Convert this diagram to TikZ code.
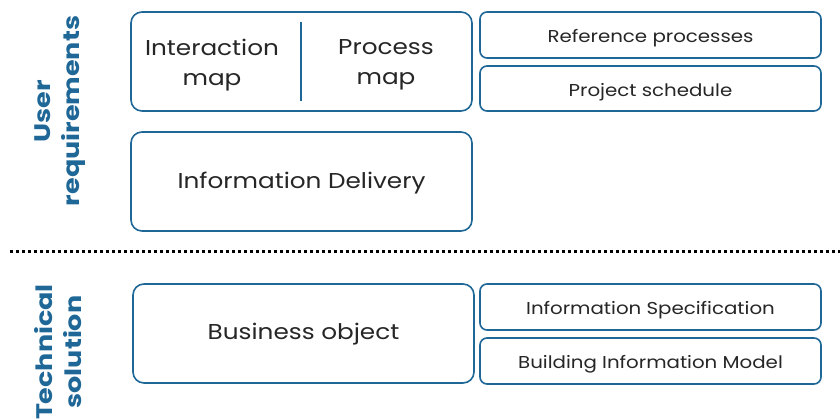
\documentclass[tikz,border=0pt]{standalone}
\usepackage{fontspec}
\setmainfont[FakeStretch=1.15]{Poppins}
\newfontfamily\sidefont[FakeStretch=1.2]{Poppins}
\definecolor{frameblue}{HTML}{1F6797}
\definecolor{bodytext}{HTML}{262626}
\tikzset{
  x=1pt, y=-1pt,
  card/.style={draw=frameblue, line width=1.6pt, rounded corners=11pt, fill=white},
  smallcard/.style={draw=frameblue, line width=1.6pt, rounded corners=7pt, fill=white},
  cardtext/.style={text=bodytext, font=\fontsize{21.5}{30}\selectfont, align=center},
  smalltext/.style={text=bodytext, font=\fontsize{17.2}{20}\selectfont, align=center},
  sidelabel/.style={text=frameblue, font=\sidefont\fontsize{22.5}{29}\selectfont\bfseries, align=center, rotate=90},
}
\begin{document}
\begin{tikzpicture}
\useasboundingbox (0,0) rectangle (840,419);

% user requirements layer
\draw[card] (131,12) rectangle (472,111);
\draw[frameblue, line width=1.6pt] (301,22) -- (301,101);
\node[cardtext] (interaction) at (212,65) {Interaction\\map};
\node[cardtext] (process) at (386,65) {Process\\map};
\draw[smallcard] (480,12) rectangle (821,58);
\node[smalltext] (refproc) at (650.5,38) {Reference processes};
\draw[smallcard] (480,66) rectangle (821,111);
\node[smalltext] (schedule) at (650.5,92) {Project schedule};
\draw[card] (131,132) rectangle (472,231);
\node[cardtext] (delivery) at (301.5,183.5) {Information Delivery};
\node[sidelabel] (userreq) at (60,111) {User\\requirements};

% separator
\draw[black, line width=3pt, dash pattern=on 3pt off 3pt] (10,252) -- (840,252);

% technical solution layer
\draw[card] (133,284) rectangle (474,383);
\node[cardtext] (business) at (303.5,334.5) {Business object};
\draw[smallcard] (480,284) rectangle (821,330);
\node[smalltext] (infospec) at (650.5,310) {Information Specification};
\draw[smallcard] (480,338) rectangle (821,384);
\node[smalltext] (bim) at (650.5,364) {Building Information Model};
\node[sidelabel] (techsol) at (58,352) {Technical\\solution};
\end{tikzpicture}
\end{document}
